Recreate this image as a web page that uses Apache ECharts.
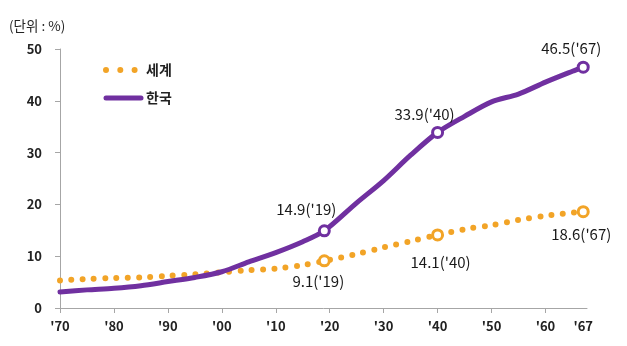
<!DOCTYPE html>
<html>
<head>
<meta charset="utf-8">
<script src="https://cdn.jsdelivr.net/npm/echarts@6/dist/echarts.min.js"></script>
<style>
html,body{margin:0;padding:0;background:#fff;}
#chart{width:627px;height:346px;}
</style>
</head>
<body>
<div id="chart"></div>
<script>
// ---- data ----
const seriesNames = ['세계', '한국'];
const worldYears  = [1970,1975,1980,1985,1990,1995,2000,2005,2010,2015,2019,2025,2030,2035,2040,2045,2050,2055,2060,2067];
const worldValues = [5.3, 5.6, 5.8, 5.9, 6.2, 6.5, 6.9, 7.3, 7.6, 8.3, 9.1, 10.4,11.7,12.9,14.1,15.2,16.0,17.0,17.8,18.6];
const koreaYears  = [1970,1975,1980,1985,1990,1995,2000,2005,2010,2015,2019,2025,2030,2035,2040,2045,2050,2055,2060,2065,2067];
const koreaValues = [3.1, 3.5, 3.8, 4.3, 5.1, 5.9, 7.0, 8.9, 10.7,12.8,14.9,20.3,24.6,29.5,33.9,37.0,39.8,41.3,43.6,45.7,46.5];
const markedYears = [2019, 2040, 2067];
const xTickLabels = [1970,1980,1990,2000,2010,2020,2030,2040,2050,2060,2067];
const xTickMarks  = [1970,1980,1990,2000,2010,2020,2030,2040,2050,2060];
const unitLabel = '(단위 : %)';

const purple = '#7030A0';
const orange = '#F2A427';
const axisColor = '#A6A6A6';
const fontFam = '"Noto Sans CJK KR", "Noto Sans", sans-serif';

const korLabelOffsets = {2019: [-18, -22], 2040: [-13, -18], 2067: [-12, -19]};
const wldLabelOffsets = {2019: [-6, 20], 2040: [3, 27], 2067: [-2, 23]};

function buildData(years, values, color, offsets) {
  return years.map((y, i) => {
    const v = values[i];
    if (markedYears.indexOf(y) < 0) return [y, v];
    return {
      value: [y, v],
      symbol: 'circle',
      symbolSize: 10,
      itemStyle: {color: '#fff', borderColor: color, borderWidth: 3},
      label: {
        show: true,
        position: 'inside',
        offset: offsets[y],
        formatter: v.toFixed(1) + "('" + String(y).slice(2) + ")",
        color: '#1a1a1a',
        fontSize: 15,
        fontFamily: fontFam
      }
    };
  });
}

const chart = echarts.init(document.getElementById('chart'));
chart.setOption({
  animation: false,
  backgroundColor: '#fff',
  grid: {left: 60, right: 40, top: 49, bottom: 38, containLabel: false},
  graphic: [{
    type: 'text', left: 9, top: 19,
    style: {text: unitLabel, fontSize: 13.5, fontFamily: fontFam, fill: '#222'}
  }],
  legend: {
    orient: 'vertical', left: 103, top: 63, padding: 0,
    itemWidth: 35, itemHeight: 14, itemGap: 14,
    data: [
      {name: seriesNames[0], lineStyle: {width: 6, type: [0, 14.3], cap: 'round', color: orange}},
      {name: seriesNames[1], lineStyle: {width: 5, cap: 'round', color: purple}}
    ],
    itemStyle: {color: 'rgba(0,0,0,0)', borderColor: 'rgba(0,0,0,0)', borderWidth: 0},
    textStyle: {fontSize: 14, fontWeight: 'bold', fontFamily: fontFam, color: '#222'}
  },
  xAxis: {
    type: 'value', min: 1970, max: 2067.7,
    axisLine: {show: true, lineStyle: {color: axisColor, width: 1}},
    axisTick: {show: true, length: 5, customValues: xTickMarks, lineStyle: {color: axisColor}},
    axisLabel: {
      customValues: xTickLabels, margin: 12,
      formatter: v => "'" + String(v).slice(2),
      fontSize: 13, fontWeight: 'bold', color: '#222', fontFamily: fontFam
    },
    splitLine: {show: false}
  },
  yAxis: {
    type: 'value', min: 0, max: 50, interval: 10,
    axisLine: {show: true, lineStyle: {color: axisColor, width: 1}},
    axisTick: {show: true, length: 5, lineStyle: {color: axisColor}},
    axisLabel: {margin: 18, fontSize: 13, fontWeight: 'bold', color: '#222', fontFamily: fontFam},
    splitLine: {show: false}
  },
  series: [
    {
      name: seriesNames[0], type: 'line', smooth: 0.3,
      symbol: 'none', showSymbol: true, z: 2,
      color: orange,
      lineStyle: {color: orange, width: 6, type: [0, 11.3], cap: 'round'},
      data: buildData(worldYears, worldValues, orange, wldLabelOffsets)
    },
    {
      name: seriesNames[1], type: 'line', smooth: 0.3,
      symbol: 'none', showSymbol: true, z: 3,
      color: purple,
      lineStyle: {color: purple, width: 5, cap: 'round'},
      data: buildData(koreaYears, koreaValues, purple, korLabelOffsets)
    }
  ]
});
</script>
</body>
</html>
